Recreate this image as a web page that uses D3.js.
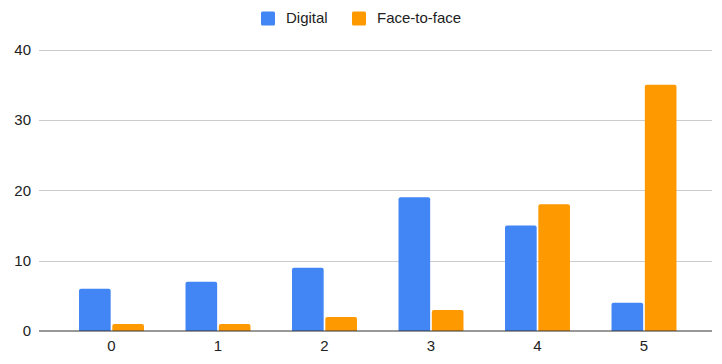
<!DOCTYPE html>
<html><head><meta charset="utf-8">
<script src="https://cdn.jsdelivr.net/npm/d3@7"></script>
<style>body{margin:0;background:#fff;}svg{display:block;font-family:Arial,"Liberation Sans",sans-serif;}</style>
</head><body>
<svg id="c" width="722" height="364"></svg>
<script>
const categories = ["0","1","2","3","4","5"];
const seriesNames = ["Digital","Face-to-face"];
const digital = [6,7,9,19,15,4];
const faceToFace = [1,1,2,3,18,35];
const yTicks = [0,10,20,30,40];
const colors = ["#4285F4","#FF9900"];

const svg = d3.select("#c");
const y = d3.scaleLinear().domain([0,40]).range([331,49.5]);
const x0 = d3.scaleBand().domain(categories).range([58.25,697.25]).paddingInner(0.39).paddingOuter(0.195);
const x1 = d3.scaleBand().domain(seriesNames).range([0,x0.bandwidth()]).paddingInner(0.05);

// gridlines
svg.append("g").selectAll("line").data(yTicks.filter(d=>d!==0)).join("line")
  .attr("x1",39).attr("x2",712).attr("y1",d=>Math.round(y(d))+0.5).attr("y2",d=>Math.round(y(d))+0.5)
  .attr("stroke","#cccccc").attr("stroke-width",1);

// y labels
svg.append("g").selectAll("text").data(yTicks).join("text")
  .attr("x",31).attr("y",d=>y(d)+5.3).attr("text-anchor","end")
  .attr("font-size",15).attr("fill","#222").text(d=>d);

const data = categories.map((c,i)=>({cat:c, vals:[digital[i],faceToFace[i]]}));
function barPath(x,yTop,w,h){
  const r=Math.min(2,h/2);
  return `M${x},${yTop+h}V${yTop+r}Q${x},${yTop} ${x+r},${yTop}H${x+w-r}Q${x+w},${yTop} ${x+w},${yTop+r}V${yTop+h}Z`;
}
const g = svg.append("g");
data.forEach(d=>{
  d.vals.forEach((v,j)=>{
    const bx = x0(d.cat)+x1(seriesNames[j]);
    const yt = y(v);
    g.append("path").attr("d",barPath(bx,yt,x1.bandwidth(),y(0)-yt)).attr("fill",colors[j]);
  });
});

// baseline
svg.append("line").attr("x1",39).attr("x2",712).attr("y1",331).attr("y2",331)
  .attr("stroke","#333").attr("stroke-width",1);

// x labels
svg.append("g").selectAll("text").data(categories).join("text")
  .attr("x",d=>x0(d)+x0.bandwidth()/2).attr("y",351).attr("text-anchor","middle")
  .attr("font-size",15).attr("fill","#222").text(d=>d);

// legend
const legendX=[261,352];
const lg = svg.append("g");
seriesNames.forEach((s,i)=>{
  lg.append("rect").attr("x",legendX[i]).attr("y",11.5).attr("width",14).attr("height",14).attr("rx",1.5).attr("fill",colors[i]);
  lg.append("text").attr("x",legendX[i]+25).attr("y",23.3).attr("font-size",15).attr("fill","#222").text(s);
});
</script>
</body></html>
